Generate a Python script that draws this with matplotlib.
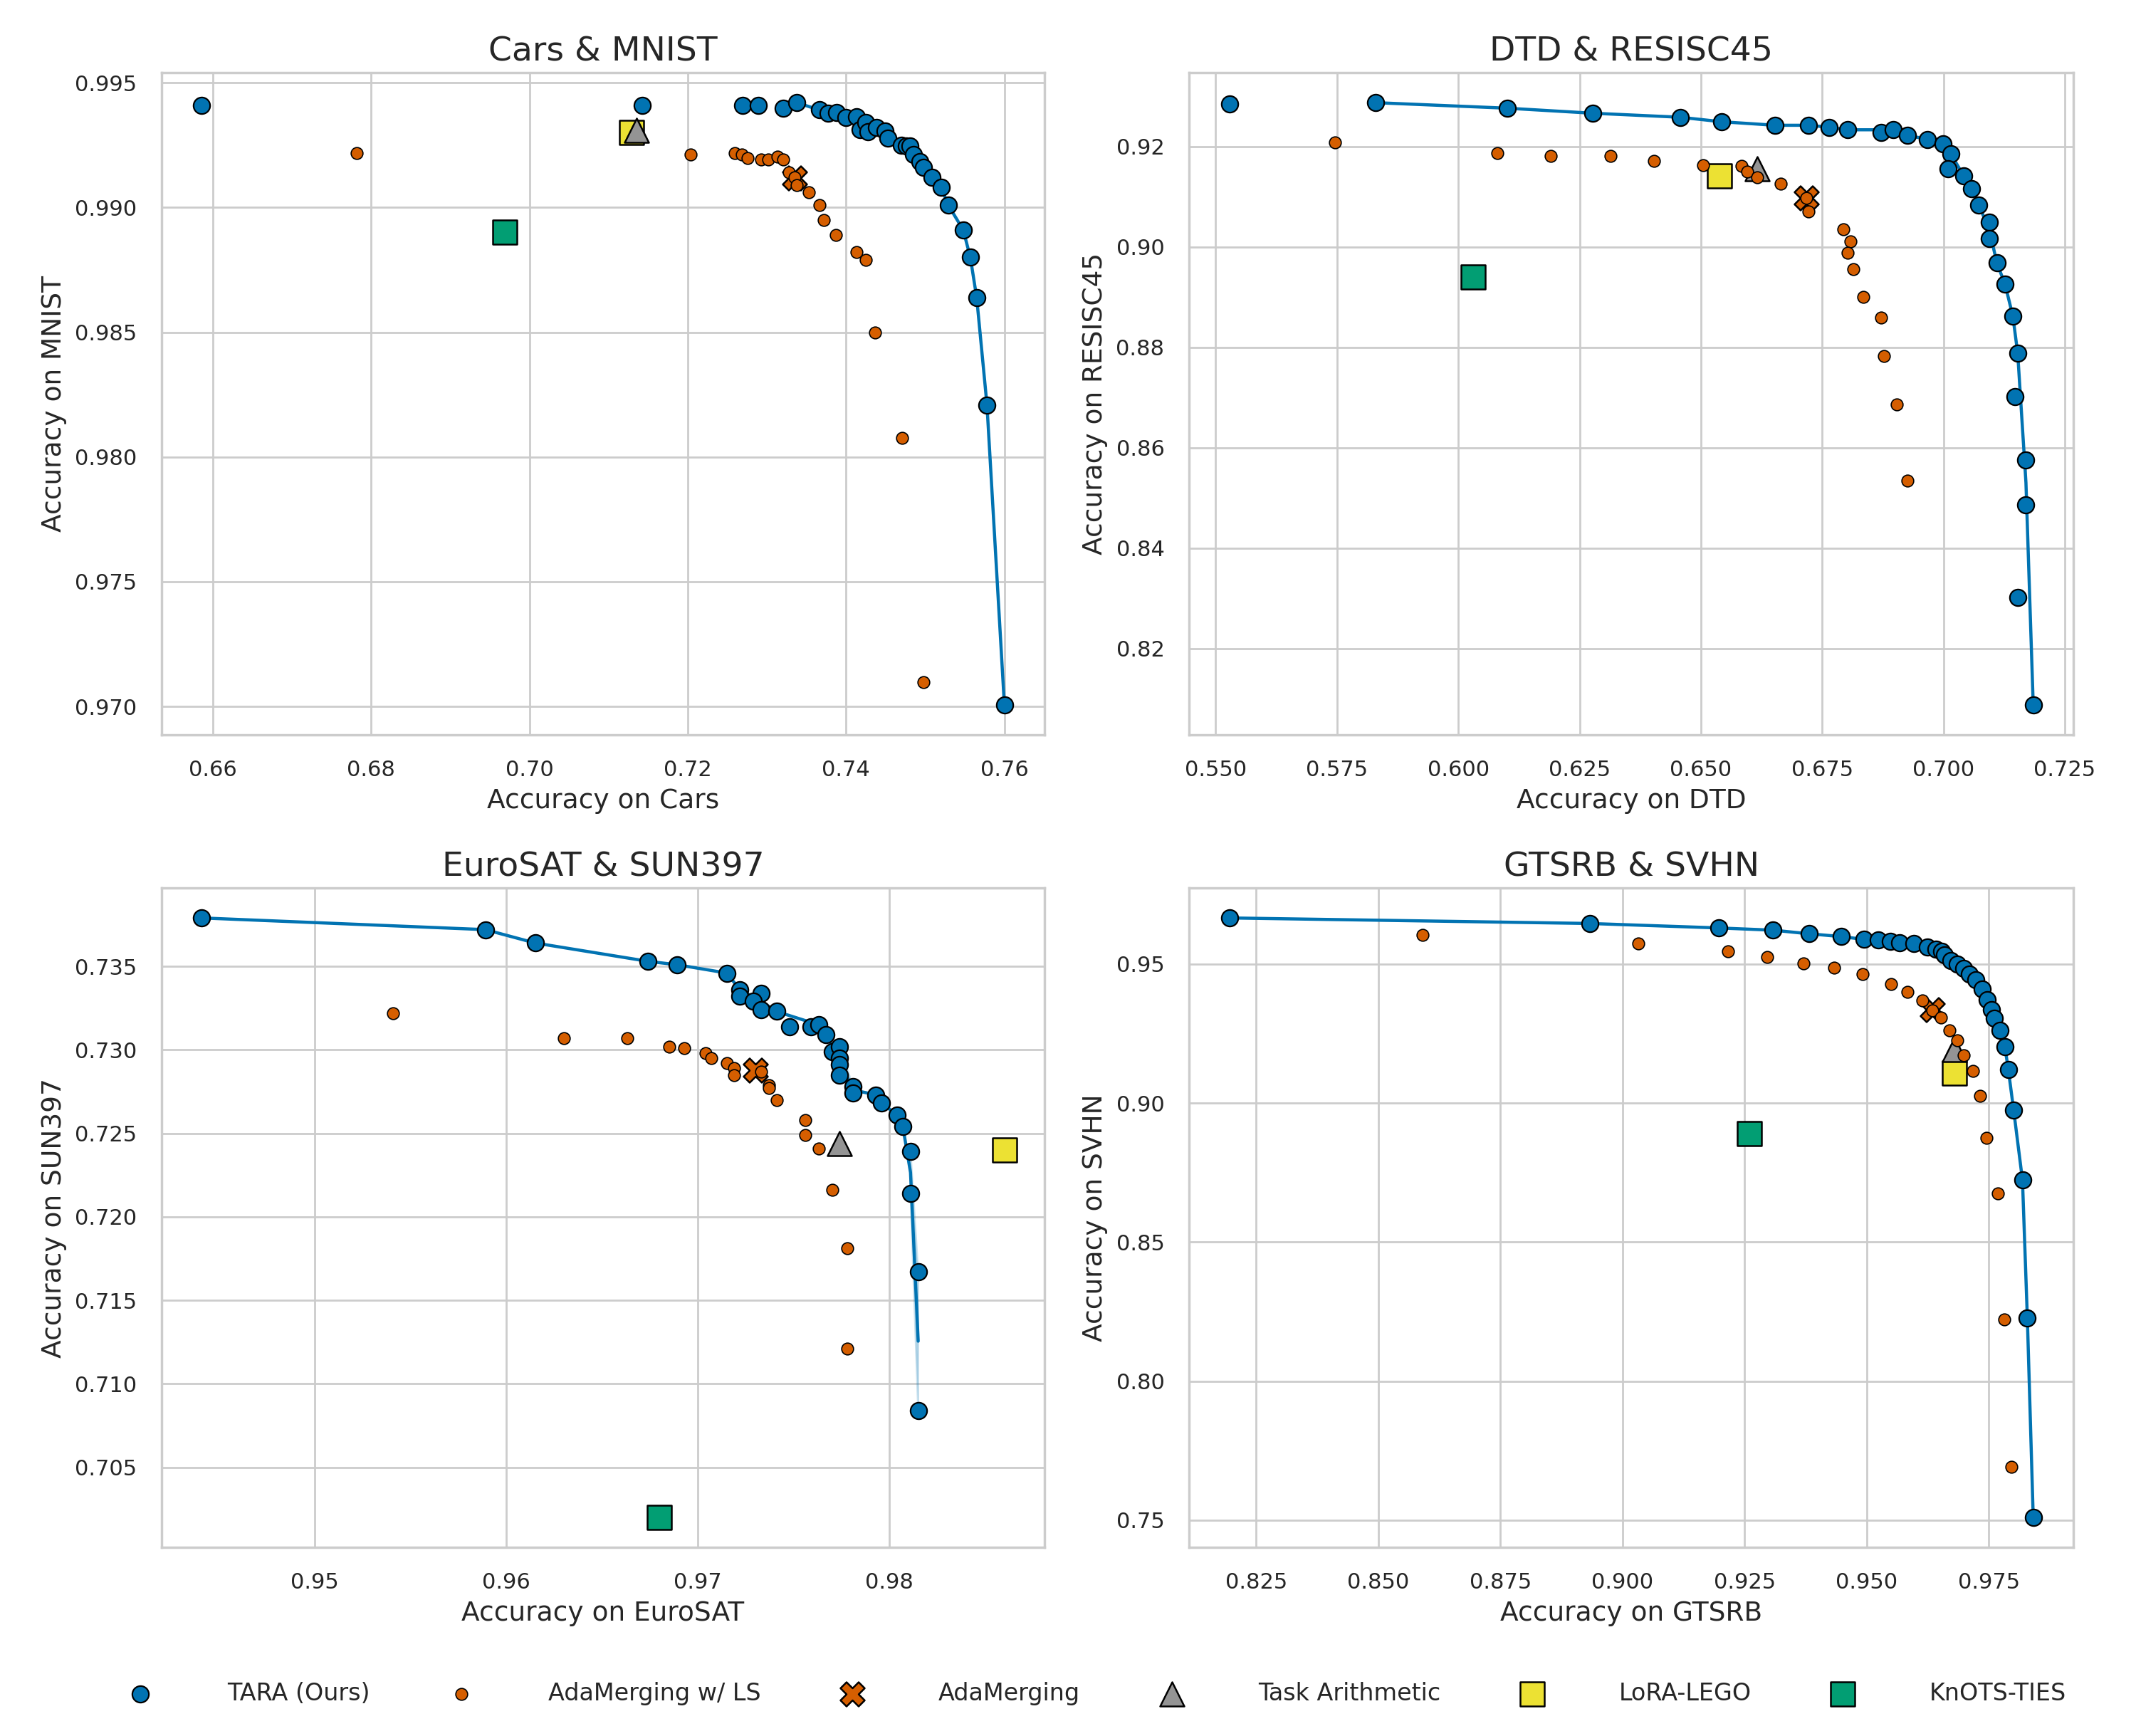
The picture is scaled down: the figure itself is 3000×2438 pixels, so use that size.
import matplotlib
matplotlib.use("Agg")
import matplotlib.pyplot as plt
import numpy as np
import seaborn as sns
from matplotlib.ticker import MultipleLocator

sns.set_theme(style="whitegrid")
plt.rcParams['font.family'] = ['DejaVu Sans']

#..........colours (seaborn colorblind)..........
c_tara = '#0173b2'
c_ls = '#d55e00'
c_ta = '#949494'
c_lego = '#ece133'
c_knots = '#029e73'

#..........Cars & MNIST..........
cars_tara_x = [0.6586, 0.7142, 0.7269, 0.7289, 0.7321, 0.7338, 0.7366, 0.7377, 0.7388, 0.7400,
               0.7413, 0.7418, 0.7425, 0.7428, 0.7438, 0.7449, 0.7453, 0.7470, 0.7476, 0.7481,
               0.7485, 0.7493, 0.7498, 0.7509, 0.7520, 0.7529, 0.7548, 0.7557, 0.7565, 0.7578, 0.7600]
cars_tara_y = [0.99409, 0.99409, 0.99409, 0.99409, 0.99399, 0.99420, 0.99391, 0.99379, 0.99382, 0.99360,
               0.99363, 0.99312, 0.99341, 0.99303, 0.99320, 0.99306, 0.99279, 0.99250, 0.99246, 0.99246,
               0.99212, 0.99184, 0.99160, 0.99120, 0.99081, 0.99010, 0.98910, 0.98800, 0.98639, 0.98209, 0.97007]
cars_ls_x = [0.6782, 0.7204, 0.7259, 0.7268, 0.7276, 0.7293, 0.7302, 0.7313, 0.7321, 0.7328,
             0.7335, 0.7338, 0.7353, 0.7366, 0.7372, 0.7387, 0.7413, 0.7425, 0.7437, 0.7471, 0.7498]
cars_ls_y = [0.99219, 0.99211, 0.99219, 0.99212, 0.99198, 0.99191, 0.99191, 0.99203, 0.99191, 0.99140,
             0.99122, 0.99089, 0.99060, 0.99010, 0.98950, 0.98889, 0.98820, 0.98789, 0.98498, 0.98077, 0.97097]
cars_ada = (0.7335, 0.99118)
cars_ta = (0.7135, 0.99309)
cars_lego = (0.7129, 0.99300)
cars_knots = (0.6969, 0.98900)

#..........DTD & RESISC45..........
dtd_tara_x = [0.5528, 0.5830, 0.6101, 0.6277, 0.6457, 0.6543, 0.6653, 0.6722, 0.6765, 0.6802,
              0.6871, 0.6897, 0.6926, 0.6967, 0.6999, 0.7015, 0.7010, 0.7042, 0.7058, 0.7073,
              0.7095, 0.7095, 0.7110, 0.7127, 0.7143, 0.7153, 0.7148, 0.7170, 0.7170, 0.7153, 0.7185]
dtd_tara_y = [0.9284, 0.9287, 0.9276, 0.9266, 0.9258, 0.9249, 0.9242, 0.9242, 0.9238, 0.9233,
              0.9228, 0.9233, 0.9222, 0.9214, 0.9205, 0.9185, 0.9155, 0.9141, 0.9116, 0.9083,
              0.9049, 0.9016, 0.8968, 0.8925, 0.8862, 0.8788, 0.8702, 0.8575, 0.8486, 0.8302, 0.8088]
dtd_ls_x = [0.5746, 0.6081, 0.6191, 0.6314, 0.6404, 0.6505, 0.6584, 0.6595, 0.6616, 0.6664,
            0.6718, 0.6722, 0.6793, 0.6808, 0.6802, 0.6814, 0.6835, 0.6871, 0.6878, 0.6904, 0.6926]
dtd_ls_y = [0.9208, 0.9187, 0.9181, 0.9181, 0.9171, 0.9163, 0.9161, 0.9150, 0.9138, 0.9125,
            0.9097, 0.9070, 0.9035, 0.9011, 0.8988, 0.8956, 0.8900, 0.8859, 0.8783, 0.8686, 0.8534]
dtd_ada = (0.6718, 0.9097)
dtd_ta = (0.6616, 0.9156)
dtd_lego = (0.6539, 0.9141)
dtd_knots = (0.6030, 0.8940)

#..........EuroSAT & SUN397..........
euro_tara_x = [0.9441, 0.9589, 0.9615, 0.9674, 0.9689, 0.9715, 0.9722, 0.9722, 0.9733, 0.9729,
               0.9733, 0.9741, 0.9748, 0.9759, 0.9763, 0.9767, 0.9770, 0.9774, 0.9774, 0.9774,
               0.9774, 0.9781, 0.9781, 0.9793, 0.9796, 0.9804, 0.9807, 0.9811, 0.9811, 0.9815, 0.9815]
euro_tara_y = [0.7379, 0.7372, 0.7364, 0.7353, 0.7351, 0.7346, 0.7336, 0.7332, 0.7334, 0.7329,
               0.7324, 0.7323, 0.7314, 0.7314, 0.7315, 0.7309, 0.7299, 0.7302, 0.7295, 0.7291,
               0.7285, 0.7278, 0.7274, 0.7273, 0.7268, 0.7261, 0.7254, 0.7239, 0.7214, 0.7167, 0.7084]
euro_ls_x = [0.9541, 0.9630, 0.9663, 0.9685, 0.9693, 0.9704, 0.9707, 0.9715, 0.9719, 0.9719,
             0.9733, 0.9737, 0.9737, 0.9741, 0.9756, 0.9756, 0.9763, 0.9770, 0.9778, 0.9778]
euro_ls_y = [0.7322, 0.7307, 0.7307, 0.7302, 0.7301, 0.7298, 0.7295, 0.7292, 0.7289, 0.7285,
             0.7287, 0.7279, 0.7277, 0.7270, 0.7258, 0.7249, 0.7241, 0.7216, 0.7181, 0.7121]
euro_ada = (0.9730, 0.7288)
euro_ta = (0.9774, 0.7244)
euro_lego = (0.9860, 0.7240)
euro_knots = (0.9680, 0.7020)

#..........GTSRB & SVHN..........
gtsrb_tara_x = [0.8195, 0.8934, 0.9197, 0.9308, 0.9382, 0.9448, 0.9494, 0.9524, 0.9549, 0.9568,
                0.9596, 0.9624, 0.9642, 0.9653, 0.9659, 0.9673, 0.9685, 0.9699, 0.9711, 0.9723,
                0.9737, 0.9747, 0.9756, 0.9761, 0.9773, 0.9783, 0.9790, 0.9801, 0.9819, 0.9829, 0.9841]
gtsrb_tara_y = [0.9666, 0.9646, 0.9630, 0.9622, 0.9609, 0.9599, 0.9589, 0.9588, 0.9583, 0.9576,
                0.9573, 0.9562, 0.9554, 0.9546, 0.9532, 0.9513, 0.9500, 0.9484, 0.9464, 0.9443,
                0.9410, 0.9373, 0.9337, 0.9304, 0.9261, 0.9202, 0.9121, 0.8974, 0.8723, 0.8226, 0.7510]
gtsrb_ls_x = [0.8591, 0.9033, 0.9216, 0.9297, 0.9370, 0.9433, 0.9491, 0.9550, 0.9584, 0.9614,
              0.9635, 0.9652, 0.9670, 0.9685, 0.9699, 0.9717, 0.9732, 0.9746, 0.9768, 0.9782, 0.9797]
gtsrb_ls_y = [0.9604, 0.9573, 0.9546, 0.9526, 0.9503, 0.9487, 0.9464, 0.9428, 0.9399, 0.9368,
              0.9334, 0.9308, 0.9262, 0.9225, 0.9173, 0.9116, 0.9026, 0.8875, 0.8674, 0.8221, 0.7692]
gtsrb_ada = (0.9635, 0.9337)
gtsrb_ta = (0.9679, 0.9192)
gtsrb_lego = (0.9679, 0.9109)
gtsrb_knots = (0.9260, 0.8889)

panels = [
    ('Cars & MNIST', 'Cars', 'MNIST', cars_tara_x, cars_tara_y, cars_ls_x, cars_ls_y,
     cars_ada, cars_ta, cars_lego, cars_knots, 0.02, 0.005),
    ('DTD & RESISC45', 'DTD', 'RESISC45', dtd_tara_x, dtd_tara_y, dtd_ls_x, dtd_ls_y,
     dtd_ada, dtd_ta, dtd_lego, dtd_knots, 0.025, 0.02),
    ('EuroSAT & SUN397', 'EuroSAT', 'SUN397', euro_tara_x, euro_tara_y, euro_ls_x, euro_ls_y,
     euro_ada, euro_ta, euro_lego, euro_knots, 0.01, 0.005),
    ('GTSRB & SVHN', 'GTSRB', 'SVHN', gtsrb_tara_x, gtsrb_tara_y, gtsrb_ls_x, gtsrb_ls_y,
     gtsrb_ada, gtsrb_ta, gtsrb_lego, gtsrb_knots, 0.025, 0.05),
]

# axes boxes [left, bottom, width, height] in figure fractions
boxes = [[0.0757, 0.5767, 0.4133, 0.3815],
         [0.5567, 0.5767, 0.4140, 0.3815],
         [0.0757, 0.1087, 0.4133, 0.3798],
         [0.5567, 0.1087, 0.4140, 0.3798]]


def pareto(xs, ys):
    # keep points that no other point beats on both axes
    fx, fy = [], []
    for i in range(len(xs)):
        dom = False
        for j in range(len(xs)):
            if xs[j] > xs[i] and ys[j] > ys[i]:
                dom = True
                break
        if not dom:
            fx.append(xs[i])
            fy.append(ys[i])
    return fx, fy


fig = plt.figure(figsize=(15, 12.19), dpi=200)

handles = None
for box, p in zip(boxes, panels):
    title, xn, yn, tx, ty, lx, ly, ada, ta, lego, knots, xstep, ystep = p
    ax = fig.add_axes(box)

    h_knots = ax.scatter([knots[0]], [knots[1]], marker='s', s=150, color=c_knots,
                         edgecolor='black', linewidth=0.9, zorder=3)
    h_lego = ax.scatter([lego[0]], [lego[1]], marker='s', s=150, color=c_lego,
                        edgecolor='black', linewidth=0.9, zorder=3)
    h_ta = ax.scatter([ta[0]], [ta[1]], marker='^', s=150, color=c_ta,
                      edgecolor='black', linewidth=0.9, zorder=3)
    h_ada = ax.scatter([ada[0]], [ada[1]], marker='X', s=150, color=c_ls,
                       edgecolor='black', linewidth=0.9, zorder=3)
    h_ls = ax.scatter(lx, ly, marker='o', s=36, color=c_ls,
                      edgecolor='black', linewidth=0.6, zorder=4)

    fx, fy = pareto(tx, ty)
    sns.lineplot(x=fx, y=fy, ax=ax, color=c_tara, linewidth=1.6,
                 errorbar=('pi', 100), legend=False, zorder=5)
    h_tara = ax.scatter(tx, ty, marker='o', s=70, color=c_tara,
                        edgecolor='black', linewidth=0.8, zorder=6)

    ax.xaxis.set_major_locator(MultipleLocator(xstep))
    ax.yaxis.set_major_locator(MultipleLocator(ystep))
    ax.tick_params(labelsize=11, pad=6.5)
    ax.set_title(title, fontsize=17)
    ax.set_xlabel('Accuracy on ' + xn, fontsize=13.5)
    ax.set_ylabel('Accuracy on ' + yn, fontsize=13.5)

    if handles is None:
        handles = [h_tara, h_ls, h_ada, h_ta, h_lego, h_knots]

labels = ['TARA (Ours)', 'AdaMerging w/ LS', 'AdaMerging', 'Task Arithmetic', 'LoRA-LEGO', 'KnOTS-TIES']
fig.legend(handles, labels, loc='center', bbox_to_anchor=(0.511, 0.0246), ncol=6,
           frameon=False, fontsize=12, handletextpad=2.65, columnspacing=2.85,
           scatterpoints=1)

fig.savefig('out.png', dpi=200)
